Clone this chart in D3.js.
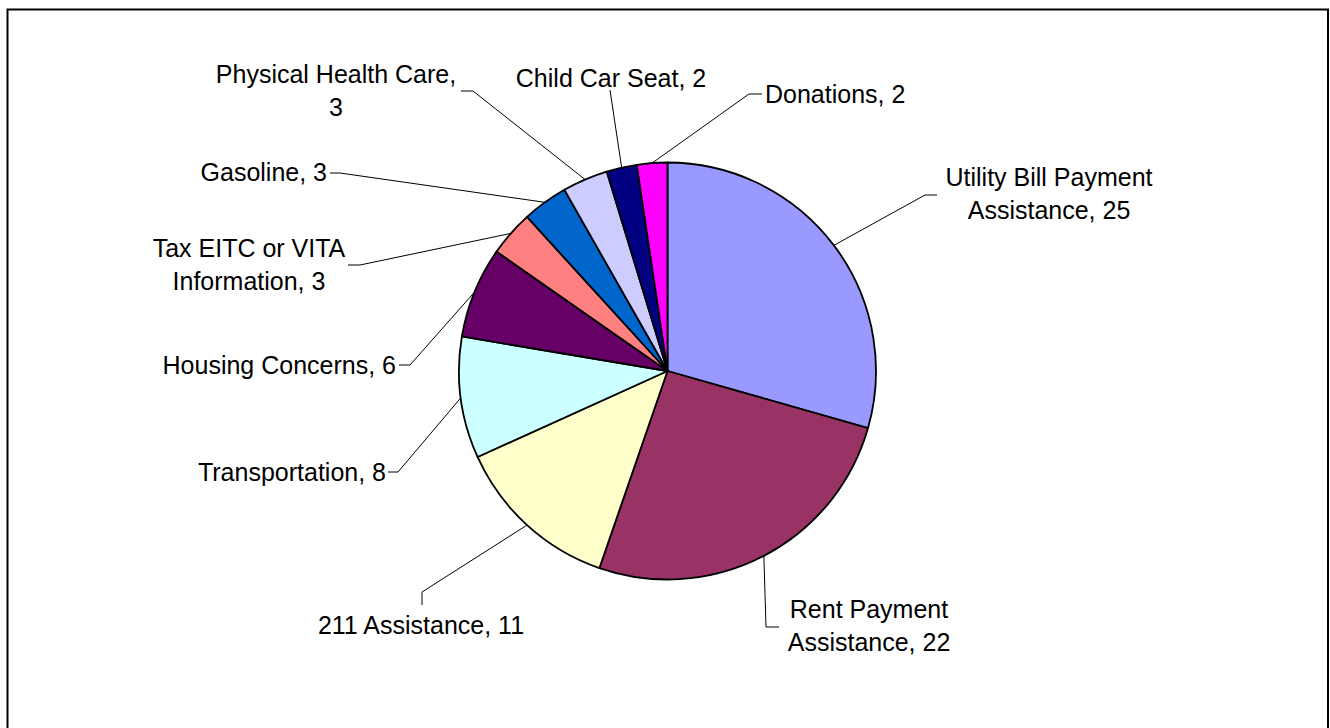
<!DOCTYPE html>
<html>
<head>
<meta charset="utf-8">
<script src="https://cdn.jsdelivr.net/npm/d3@7"></script>
<style>
  body { margin: 0; background: #fff; }
  text { font-family: "Liberation Sans", Arial, sans-serif; font-size: 25px; fill: #000; }
</style>
</head>
<body>
<div id="chart"></div>
<script>
// data, clockwise from 12 o'clock
var categories = ["Utility Bill Payment Assistance", "Rent Payment Assistance", "211 Assistance",
    "Transportation", "Housing Concerns", "Tax EITC or VITA Information", "Gasoline",
    "Physical Health Care", "Child Car Seat", "Donations"];
var values = [25, 22, 11, 8, 6, 3, 3, 3, 2, 2];
var colors = ["#9999FF", "#993366", "#FFFFCC", "#CCFFFF", "#660066",
    "#FF8080", "#0066CC", "#CCCCFF", "#000080", "#FF00FF"];

// label placement (text position, wrap width, leader elbow + end)
var labelLayout = [
    { x: 1049, y: 177, anchor: "middle", wrap: 225, elbow: [925, 195], end: [937, 195] },
    { x: 869, y: 609, anchor: "middle", wrap: 180, elbow: [766, 627], end: [779, 627] },
    { x: 421, y: 625, anchor: "middle", wrap: 300, elbow: [422, 592], end: [422, 605] },
    { x: 386, y: 472, anchor: "end", wrap: 300, elbow: [398, 472], end: [388, 472] },
    { x: 396, y: 365, anchor: "end", wrap: 300, elbow: [410, 365], end: [399, 365] },
    { x: 249, y: 248, anchor: "middle", wrap: 205, elbow: [360, 265], end: [348, 265] },
    { x: 327, y: 172, anchor: "end", wrap: 300, elbow: [340, 173], end: [330, 173] },
    { x: 336, y: 74, anchor: "middle", wrap: 250, elbow: [473, 91], end: [461, 91] },
    { x: 611, y: 78, anchor: "middle", wrap: 300, elbow: [610, 90], end: [610, 90] },
    { x: 765, y: 94, anchor: "start", wrap: 300, elbow: [749, 94], end: [762, 94] }
];

var width = 1330, height = 728;
var cx = 667.5, cy = 371, radius = 208.5;
var lineHeight = 32.5;

var svg = d3.select("#chart")
    .append("svg")
    .attr("width", width)
    .attr("height", height);

// chart frame (bottom edge runs off the picture)
svg.append("rect")
    .attr("x", 7.5)
    .attr("y", 9.5)
    .attr("width", 1320.5)
    .attr("height", 760)
    .attr("fill", "#fff")
    .attr("stroke", "#000")
    .attr("stroke-width", 2);

var data = categories.map(function(c, i) { return { name: c, value: values[i], color: colors[i] }; });

var pie = d3.pie().sort(null).value(function(d) { return d.value; });
var arcs = pie(data);

var arc = d3.arc().innerRadius(0).outerRadius(radius);
var edgeArc = d3.arc().innerRadius(radius).outerRadius(radius);

var g = svg.append("g").attr("transform", "translate(" + cx + "," + cy + ")");

g.selectAll(".slice")
    .data(arcs)
    .enter()
    .append("path")
    .attr("class", "slice")
    .attr("d", arc)
    .attr("fill", function(d) { return d.data.color; })
    .attr("stroke", "#000")
    .attr("stroke-width", 1.8)
    .attr("stroke-linejoin", "round");

// leader lines
svg.selectAll(".leader")
    .data(arcs)
    .enter()
    .append("polyline")
    .attr("class", "leader")
    .attr("fill", "none")
    .attr("stroke", "#000")
    .attr("stroke-width", 1)
    .attr("points", function(d, i) {
        var p = edgeArc.centroid(d);
        var L = labelLayout[i];
        return [[p[0] + cx, p[1] + cy], L.elbow, L.end].map(function(q) { return q.join(","); }).join(" ");
    });

// labels, wrapped like the original
var labels = svg.selectAll(".label")
    .data(arcs)
    .enter()
    .append("text")
    .attr("class", "label")
    .attr("text-anchor", function(d, i) { return labelLayout[i].anchor; })
    .each(function(d, i) {
        var L = labelLayout[i];
        var t = d3.select(this);
        var words = (d.data.name + ", " + d.data.value).split(" ");
        var lines = [], cur = [];
        var probe = t.append("tspan");
        words.forEach(function(w) {
            var test = cur.concat([w]).join(" ");
            probe.text(test);
            if (cur.length && probe.node().getComputedTextLength() > L.wrap) {
                lines.push(cur.join(" "));
                cur = [w];
            } else {
                cur.push(w);
            }
        });
        lines.push(cur.join(" "));
        probe.remove();
        lines.forEach(function(s, k) {
            t.append("tspan")
                .attr("x", L.x)
                .attr("y", L.y + k * lineHeight)
                .attr("dominant-baseline", "central")
                .text(s);
        });
    });
</script>
</body>
</html>
